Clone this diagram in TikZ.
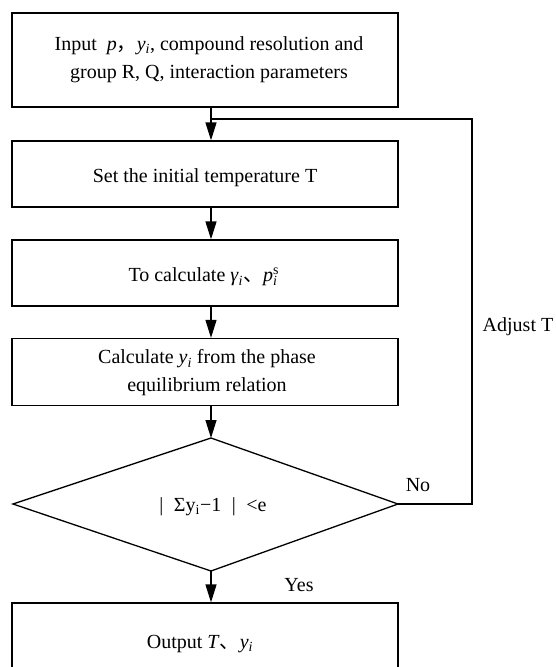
\documentclass[tikz,border=0pt]{standalone}
\usepackage{fontspec}
\setmainfont{Liberation Serif}
\newfontfamily\cjk{Noto Sans CJK SC}
\usetikzlibrary{arrows.meta}
\begin{document}
\begin{tikzpicture}[x=1pt,y=-1pt,
  box/.style={draw, line width=1.3pt, minimum width=386pt, inner sep=0pt},
  lbl/.style={font=\fontsize{20}{28}\selectfont, inner sep=0pt, align=center},
  arr/.style={-{Triangle[length=18pt,width=11pt]}, line width=1.3pt},
  ln/.style={line width=1.1pt}]
\useasboundingbox (0,0) rectangle (555,667);
\clip (0,0) rectangle (555,667);
\coordinate (ax) at (211,0);
\coordinate (lx) at (472,0);
\coordinate (j) at (211,119);
\node[box, minimum height=94pt] (b1) at (205,60) {};
\node[box, minimum height=66pt] (b2) at (205,174) {};
\node[box, minimum height=66pt] (b3) at (205,273) {};
\node[box, minimum height=67pt] (b4) at (205,372) {};
\node[box, minimum height=80pt] (b5) at (205,643) {};
\node[lbl] (t1) at (209,60)
  {Input \ \textit{p}{\cjk ，}\textit{y}\textsubscript{\textit{i}}, compound resolution and\\group R, Q, interaction parameters};
\node[lbl] (t2) at (205,178) {Set the initial temperature T};
\node[lbl] (t3) at (203,277)
  {To calculate \textit{γ}\textsubscript{\textit{i}}{\cjk 、}\textit{p}\rlap{\textsuperscript{s}}\textsubscript{\textit{i}}};
\node[lbl] (t4) at (207,373)
  {Calculate \textit{y}\textsubscript{\textit{i}} from the phase\\equilibrium relation};
\node[lbl] (t5) at (200,644) {Output \textit{T}{\cjk 、}\textit{y}\textsubscript{\textit{i}}};
\coordinate (dT) at (211,438);
\coordinate (dR) at (398,504);
\coordinate (dB) at (211,571);
\coordinate (dL) at (13,504);
\draw[line width=1.3pt, line join=miter] (dT) -- (dR) -- (dB) -- (dL) -- cycle;
\node[lbl] (dec) at (213,507) {|\; Σy\textsubscript{i}−1\; |\; <e};
\draw[arr] (b1.south -| ax) -- (b2.north -| ax);
\draw[arr] (b2.south -| ax) -- (b3.north -| ax);
\draw[arr] (b3.south -| ax) -- (b4.north -| ax);
\draw[arr] (b4.south -| ax) -- (dT);
\draw[arr] (dB) -- (b5.north -| ax);
\draw[ln] (dR) -- (dR -| lx) |- (j);
\node[lbl] (adj) at (518,327) {Adjust T};
\node[lbl] (no) at (418,485) {No};
\node[lbl] (yes) at (299,585) {Yes};
\end{tikzpicture}
\end{document}
